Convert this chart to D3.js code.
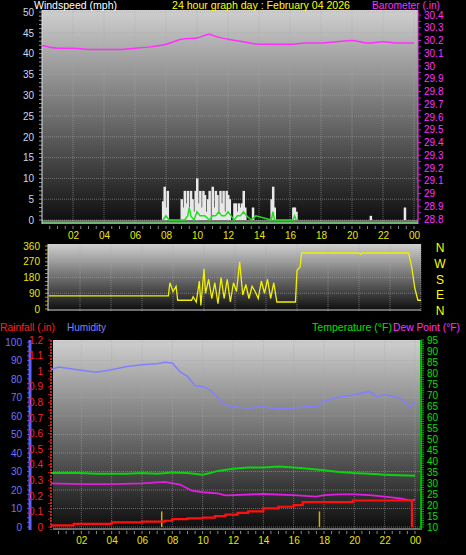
<!DOCTYPE html><html><head><meta charset="utf-8">
<script src="https://cdn.jsdelivr.net/npm/d3@7"></script>
<style>body{margin:0;background:#000}svg{display:block}text{font-family:"Liberation Sans",Arial,sans-serif}</style></head><body>
<script>
const hourTicks=[2,4,6,8,10,12,14,16,18,20,22,24];
const hourLabels=["02","04","06","08","10","12","14","16","18","20","22","00"];
const baroT=[0,1,2,3,4,5,6,7,8,9,10,10.8,11,12,13,14,15,16,17,18,19,20,21,22,23,24];
const baroV=[30.16,30.14,30.14,30.13,30.13,30.13,30.14,30.15,30.17,30.21,30.22,30.25,30.24,30.21,30.19,30.17,30.17,30.17,30.18,30.18,30.19,30.20,30.18,30.19,30.18,30.18];
const gustT=[7.8,7.9,8.0,8.1,9.0,9.1,9.2,9.3,9.4,9.5,9.6,9.7,9.8,9.9,10.0,10.1,10.2,10.3,10.4,10.5,10.6,10.7,10.8,11.0,11.1,11.2,11.3,11.4,11.5,11.6,11.7,11.8,11.9,12.0,12.1,12.4,12.5,12.6,12.7,12.8,12.9,13.0,13.1,13.6,14.8,14.9,15.0,16.2,16.3,16.4,21.2,23.4];
const gustV=[4.5,8,3,7,5,3,7,4,7,3,7,5,2,7,10,4,7,3,7,6,2,5,7,8,3,7,6,2,7,4,7,2,7,6,5,4,4,2,4,3,4,7,3,3,5,8,3,3,3,2,1,3];
const avgT=[7.8,8.0,8.2,9.2,9.4,9.5,9.6,9.8,10.0,10.2,10.5,10.8,11.0,11.2,11.4,11.6,11.8,12.0,12.2,12.4,12.6,12.8,13.0,13.2,13.5,13.8,14.8,14.9,15.0,16.2,16.3,16.4];
const avgV=[0,1,0,0,1,3,1,0,2,1,1,0,1,1,2,1,1,2,1,0,1,1,2,1,0,1,0,2,0,0,1,0];
const dirT=[0,7.7,7.8,8.0,8.2,8.3,9.2,9.3,9.5,9.7,9.8,10.0,10.1,10.3,10.5,10.7,10.9,11.1,11.3,11.5,11.7,11.9,12.1,12.3,12.5,12.7,12.9,13.1,13.3,13.5,13.7,13.9,14.1,14.3,14.5,14.7,14.9,15.9,16.0,16.2,16.3,20.0,20.1,20.2,23.2,23.4,23.6,23.8,24];
const dirV=[75,75,150,100,130,50,50,70,40,160,20,230,90,170,60,150,30,180,60,170,40,150,100,270,80,140,60,130,100,60,160,90,170,60,150,40,40,40,220,240,320,320,312,320,320,240,120,50,50];
const humT=[0,0.5,2,3,4,5,6,7,7.5,8,8.5,9,9.5,10,10.5,11,11.5,12,13,14,15,16,17,17.5,18,19,20,21,21.5,22,23,23.7,24];
const humV=[85,86.5,84.7,83.6,85,86.8,87.7,88.3,89,88.6,84,81.4,76.4,76,74,69.7,66,65,64.3,65,63.8,64.3,65.2,65,68,70.3,71.5,73.3,70.3,71.5,69.7,65,68];
const tempT=[0,1,2,3,4,5,6,7,8,9,10,10.5,11,12,13,14,15,16,17,18,19,20,21,22,23,24];
const tempV=[34.5,34.5,34.5,34.2,34.2,34.2,34.5,34.2,34.8,34.5,33.8,34.5,35.5,36.5,37,37,37.5,37,36.5,35.8,35,34.5,34.2,33.8,33.5,33.3];
const dewT=[0,2,4,6,7.5,8.5,9.3,10,11,11.5,12,14,16,17.5,18,19,20,21,22,23,23.8,24];
const dewV=[29.8,29.5,29.5,29.8,30.5,29.3,26.5,25.8,25.3,24.4,24.5,25,24.5,23.8,24.5,24.8,24.8,24.5,23.8,23,22,22.5];
const rainT=[0,1.5,4,6,7.5,8,9,10,10.8,11.5,12.3,13,14,15,16,16.6,19.9,23.8,23.8];
const rainV=[0.01,0.02,0.03,0.035,0.04,0.05,0.055,0.06,0.07,0.08,0.09,0.10,0.12,0.13,0.14,0.16,0.17,0.17,0];
const rateT=[7.3,17.7];
const rateV=[0.1,0.1];
const compass=["N","W","S","E","N"];

const svg=d3.select("body").append("svg").attr("width",466).attr("height",555);
const defs=svg.append("defs");
const g=defs.append("linearGradient").attr("id","bg").attr("x1",0).attr("y1",0).attr("x2",0).attr("y2",1);
g.append("stop").attr("offset","0%").attr("stop-color","#cfcfcf");
g.append("stop").attr("offset","100%").attr("stop-color","#0c0c0c");

function panel(x0,x1,y0,y1){
  svg.append("rect").attr("x",x0).attr("y",y0).attr("width",x1-x0).attr("height",y1-y0).attr("fill","url(#bg)");
}
function grid(x,yVals,y,x0,x1,y0,y1){
  const gg=svg.append("g").attr("stroke","#a8a8a8").attr("stroke-opacity",0.55).attr("stroke-dasharray","1,1");
  hourTicks.forEach(h=>gg.append("line").attr("x1",x(h)).attr("x2",x(h)).attr("y1",y0).attr("y2",y1));
  yVals.forEach(v=>gg.append("line").attr("x1",x0).attr("x2",x1).attr("y1",y(v)).attr("y2",y(v)));
}
function timeAxis(x,yPos){
  svg.append("g").attr("transform",`translate(0,${yPos})`)
   .call(d3.axisBottom(x).tickValues(hourTicks).tickFormat((d,i)=>hourLabels[i]).tickSize(0).tickPadding(6))
   .call(a=>{a.select(".domain").remove();a.selectAll("text").attr("fill","#e8e800").attr("font-size",10);});
  const mt=svg.append("g").attr("stroke","#888");
  d3.range(0.5,24.01,0.5).forEach(h=>mt.append("line").attr("x1",x(h)).attr("x2",x(h)).attr("y1",yPos).attr("y2",yPos+3));
}
function yAxis(scale,ticks,xPos,color,side,fmt,minor){
  const ax=(side==="left"?d3.axisLeft(scale):d3.axisRight(scale)).tickValues(ticks).tickSize(0).tickPadding(side==="left"?8:6).tickFormat(fmt||(d=>d));
  svg.append("g").attr("transform",`translate(${xPos},0)`).call(ax)
   .call(a=>{a.select(".domain").remove();a.selectAll("text").attr("fill",color).attr("font-size",10);});
  if(minor){const mg=svg.append("g").attr("stroke",color).attr("stroke-opacity",0.7);
    minor.forEach(v=>mg.append("line").attr("x1",xPos).attr("x2",side==="left"?xPos-3:xPos+3).attr("y1",scale(v)).attr("y2",scale(v)));}
}
function label(x,y,color,txt,len){
  svg.append("text").attr("x",x).attr("y",y).attr("fill",color).attr("font-size",10.5)
    .attr("textLength",len).attr("lengthAdjust","spacingAndGlyphs").text(txt);
}

// ---------- Panel 1 ----------
const x1=d3.scaleLinear().domain([0,24]).range([42,414]);
const yW=d3.scaleLinear().domain([0,50]).range([220,12]);
const yB=d3.scaleLinear().domain([28.8,30.4]).range([219,15]);
panel(42,418,10,224);
grid(x1,d3.range(0,51,5),yW,42,418,10,224);
svg.append("line").attr("x1",42).attr("x2",42).attr("y1",10).attr("y2",224).attr("stroke","#ddd");
svg.append("line").attr("x1",418).attr("x2",418).attr("y1",10).attr("y2",224).attr("stroke","#ff40ff");
svg.append("line").attr("x1",42).attr("x2",418).attr("y1",221).attr("y2",221).attr("stroke","#ccc");
svg.append("line").attr("x1",42).attr("x2",418).attr("y1",223).attr("y2",223).attr("stroke","#90ee90").attr("stroke-width",1.5);
yAxis(yW,d3.range(0,51,5),42,"#c8d8f0","left",null,d3.range(0,51,1));
yAxis(yB,d3.range(28.8,30.41,0.1).map(v=>+v.toFixed(1)),418,"#ff30ff","right",d=>d3.format("")(+d.toFixed(1)),d3.range(28.8,30.41,0.05));
const gw=svg.append("g");
gustT.forEach((t,i)=>gw.append("rect").attr("x",x1(t)-1).attr("width",2.5).attr("y",yW(gustV[i])).attr("height",yW(0)-yW(gustV[i])).attr("fill","#e8e8e8"));
svg.append("path").datum(avgT.map((t,i)=>[t,avgV[i]])).attr("d",d3.line().x(d=>x1(d[0])).y(d=>yW(d[1])))
  .attr("fill","none").attr("stroke","#20e020").attr("stroke-width",1.5);
svg.append("path").datum(baroT.map((t,i)=>[t,baroV[i]])).attr("d",d3.line().curve(d3.curveMonotoneX).x(d=>x1(d[0])).y(d=>yB(d[1])))
  .attr("fill","none").attr("stroke","#ff30ff").attr("stroke-width",1.5);
timeAxis(x1,226);
label(34,9,"#fff","Windspeed (mph)",83);
label(172,9,"#ffff00","24 hour graph day : February 04 2026",178);
label(372,9,"#ff30ff","Barometer (.in)",68);

// ---------- Panel 2 ----------
const x2=d3.scaleLinear().domain([0,24]).range([49,421]);
const yD=d3.scaleLinear().domain([0,360]).range([309,246]);
panel(48,421,244,311);
grid(x2,[90,180,270],yD,48,421,244,311);
svg.append("line").attr("x1",48).attr("x2",48).attr("y1",244).attr("y2",311).attr("stroke","#ddd");
svg.append("line").attr("x1",48).attr("x2",421).attr("y1",310).attr("y2",310).attr("stroke","#ccc");
yAxis(yD,[0,90,180,270,360],48,"#e8e800","left",null,d3.range(0,361,22.5));
svg.append("path").datum(dirT.map((t,i)=>[t,dirV[i]])).attr("d",d3.line().x(d=>x2(d[0])).y(d=>yD(d[1])))
  .attr("fill","none").attr("stroke","#f0f000").attr("stroke-width",1.3);
compass.forEach((c,i)=>svg.append("text").attr("x",440).attr("y",yD(360-i*90)+6).attr("text-anchor","middle").attr("fill","#ffff00").attr("font-size",12).text(c));

// ---------- Panel 3 ----------
const x3=d3.scaleLinear().domain([0,24]).range([51,415]);
const yH=d3.scaleLinear().domain([0,100]).range([527,342]);
const yR=d3.scaleLinear().domain([0,1.2]).range([527,340]);
const yT=d3.scaleLinear().domain([10,95]).range([527,340]);
panel(53,420,340,530);
grid(x3,d3.range(0,101,10),yH,53,420,340,530);
svg.append("line").attr("x1",53).attr("x2",420).attr("y1",529).attr("y2",529).attr("stroke","#ccc");
svg.append("line").attr("x1",30).attr("x2",30).attr("y1",340).attr("y2",530).attr("stroke","#6060ff").attr("stroke-width",3);
svg.append("line").attr("x1",51).attr("x2",51).attr("y1",340).attr("y2",530).attr("stroke","#ff3030").attr("stroke-dasharray","2,1").attr("stroke-width",1.5);
svg.append("line").attr("x1",421).attr("x2",421).attr("y1",340).attr("y2",530).attr("stroke","#00e000").attr("stroke-width",1.5);
yAxis(yH,d3.range(0,101,10),30,"#7070ff","left",null,d3.range(0,101,2.5));
yAxis(yR,d3.range(0,1.21,0.1).map(v=>+v.toFixed(1)),51,"#ff2020","left",d=>d3.format("")(+d.toFixed(1)),d3.range(0,1.21,0.05));
yAxis(yT,d3.range(10,96,5),421,"#00e000","right",null,d3.range(10,96,1));
rateT.forEach((t,i)=>svg.append("line").attr("x1",x3(t)).attr("x2",x3(t)).attr("y1",yR(0)).attr("y2",yR(rateV[i])).attr("stroke","#c8b400").attr("stroke-width",1.5));
const ln=(T,V,y)=>T.map((t,i)=>[x3(t),y(V[i])]);
svg.append("path").attr("d",d3.line()(ln(humT,humV,yH))).attr("fill","none").attr("stroke","#8080ff").attr("stroke-width",1.5);
svg.append("path").attr("d",d3.line()(ln(tempT,tempV,yT))).attr("fill","none").attr("stroke","#10d010").attr("stroke-width",2);
svg.append("path").attr("d",d3.line()(ln(dewT,dewV,yT))).attr("fill","none").attr("stroke","#e020e0").attr("stroke-width",1.8);
svg.append("path").attr("d",d3.line().curve(d3.curveStepAfter)(ln(rainT,rainV,yR))).attr("fill","none").attr("stroke","#ff1010").attr("stroke-width",2.2);
timeAxis(x3,531);
label(0,331,"#ff2020","Rainfall (.in)",55);
label(67,331,"#8080ff","Humidity",39);
label(312,331,"#00e000","Temperature (°F)",80);
label(393,331,"#ff30ff","Dew Point (°F)",67);
</script></body></html>
